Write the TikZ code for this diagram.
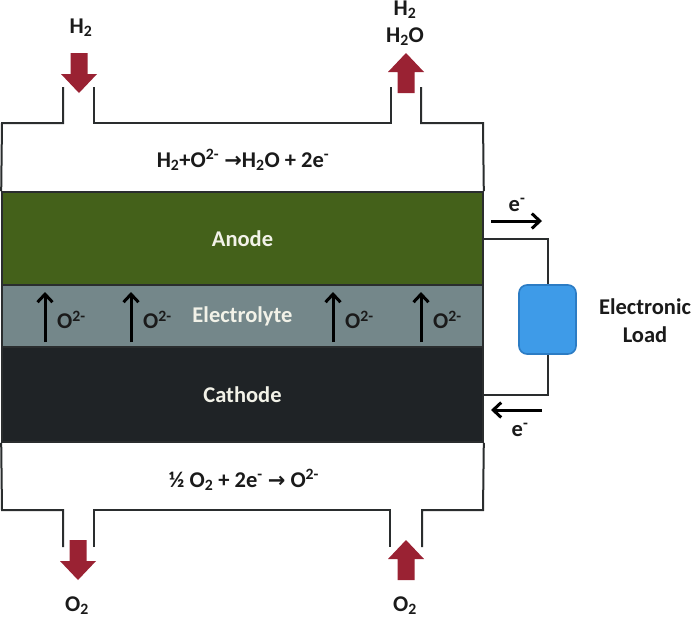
\documentclass[tikz,border=0pt]{standalone}
\usepackage{fontspec}
\setmainfont{Carlito}
\newfontfamily\symf{DejaVu Sans}
\usetikzlibrary{arrows.meta}
\definecolor{anodeC}{HTML}{44611A}
\definecolor{electC}{HTML}{74878A}
\definecolor{cathC}{HTML}{1F2326}
\definecolor{wallC}{HTML}{2A2D2E}
\definecolor{gasC}{HTML}{9A2233}
\definecolor{loadC}{HTML}{3E9BE8}
\definecolor{loadD}{HTML}{2C7CC4}
\definecolor{inkC}{HTML}{1A1A1A}
\definecolor{lightT}{HTML}{F2F2E8}
\newcommand\rarr{{\symf\bfseries\fontsize{21}{22}\selectfont →}}
\begin{document}
\begin{tikzpicture}[x=1pt,y=-1pt,
  every node/.style={font=\fontsize{22.5}{28}\selectfont\bfseries, text=inkC, inner sep=0pt},
  layer/.style={draw=wallC, line width=1.6pt, minimum width=481pt, text=lightT},
  wall/.style={draw=wallC, line width=2pt},
  wire/.style={draw=wallC, line width=2pt},
  ion/.style={draw=black, line width=3pt, -{Straight Barb[length=8pt,width=15pt,line width=3pt]}},
  loadbox/.style={draw=loadD, line width=1.6pt, fill=loadC, rounded corners=8pt, minimum width=57pt, minimum height=69pt},
  downblock/.pic={\fill[gasC] (-8.5,0) -- (8.5,0) -- (8.5,21) -- (18,21) -- (0,40) -- (-18,21) -- (-8.5,21) -- cycle;},
  upblock/.pic={\fill[gasC] (0,0) -- (18,19) -- (8.5,19) -- (8.5,40) -- (-8.5,40) -- (-8.5,19) -- (-18,19) -- cycle;}
]
\useasboundingbox (0,0) rectangle (692,619);
\fill[white] (0,0) rectangle (692,619);

% layers
\node[layer, fill=anodeC, minimum height=93pt] (anode) at (242.5,238.5) {Anode};
\node[layer, fill=electC, minimum height=62pt] (electrolyte) at (242.5,316) {Electrolyte};
\node[layer, fill=cathC, minimum height=95pt] (cathode) at (242.5,394.5) {Cathode};

% gas chambers
\draw[wall] (63,87) -- (63,123) -- (2,123) -- (anode.north west);
\draw[wall] (94,87) -- (94,123) -- (391,123) -- (391,87);
\draw[wall] (421,87) -- (421,123) -- (483,123) -- (anode.north east);
\draw[wall] (cathode.south west) -- (2,510) -- (63,510) -- (63,547);
\draw[wall] (94,547) -- (94,510) -- (390,510) -- (390,547);
\draw[wall] (422,547) -- (422,510) -- (483,510) -- (cathode.south east);

% reactions
\node (rtop) at (243,160) {H\textsubscript{2}+O\textsuperscript{2-} \rarr H\textsubscript{2}O + 2e\textsuperscript{-}};
\node (rbot) at (244,480) {½ O\textsubscript{2} + 2e\textsuperscript{-} \rarr\ O\textsuperscript{2-}};

% gas flows
\pic at (79,53) {downblock};
\pic at (406,53) {upblock};
\pic at (78,540) {downblock};
\pic at (406,540) {upblock};
\node (h2in) at (81,28) {H\textsubscript{2}};
\node (h2out) at (405,10) {H\textsubscript{2}};
\node (h2oout) at (405,37) {H\textsubscript{2}O};
\node (o2out) at (77,606) {O\textsubscript{2}};
\node (o2in) at (405,606) {O\textsubscript{2}};

% ion transport
\foreach \x/\n in {45/a,131/b,333/c,421/d}{
  \draw[ion] (\x,342) -- (\x,292);
  \node[anchor=west] (ion\n) at (\x+12,320) {O\textsuperscript{2-}};
}

% external circuit
\node[loadbox] (load) at (547.5,319.5) {};
\node[align=center] (loadlbl) at (645,321) {Electronic\\Load};
\draw[wire] (anode.east) -| (load.north);
\draw[wire] (load.south) |- (cathode.east);
\draw[ion] (491,221) -- (542,221);
\node (etop) at (517,205) {e\textsuperscript{-}};
\draw[ion] (542,410) -- (491,410);
\node (ebot) at (520,430) {e\textsuperscript{-}};
\end{tikzpicture}
\end{document}
